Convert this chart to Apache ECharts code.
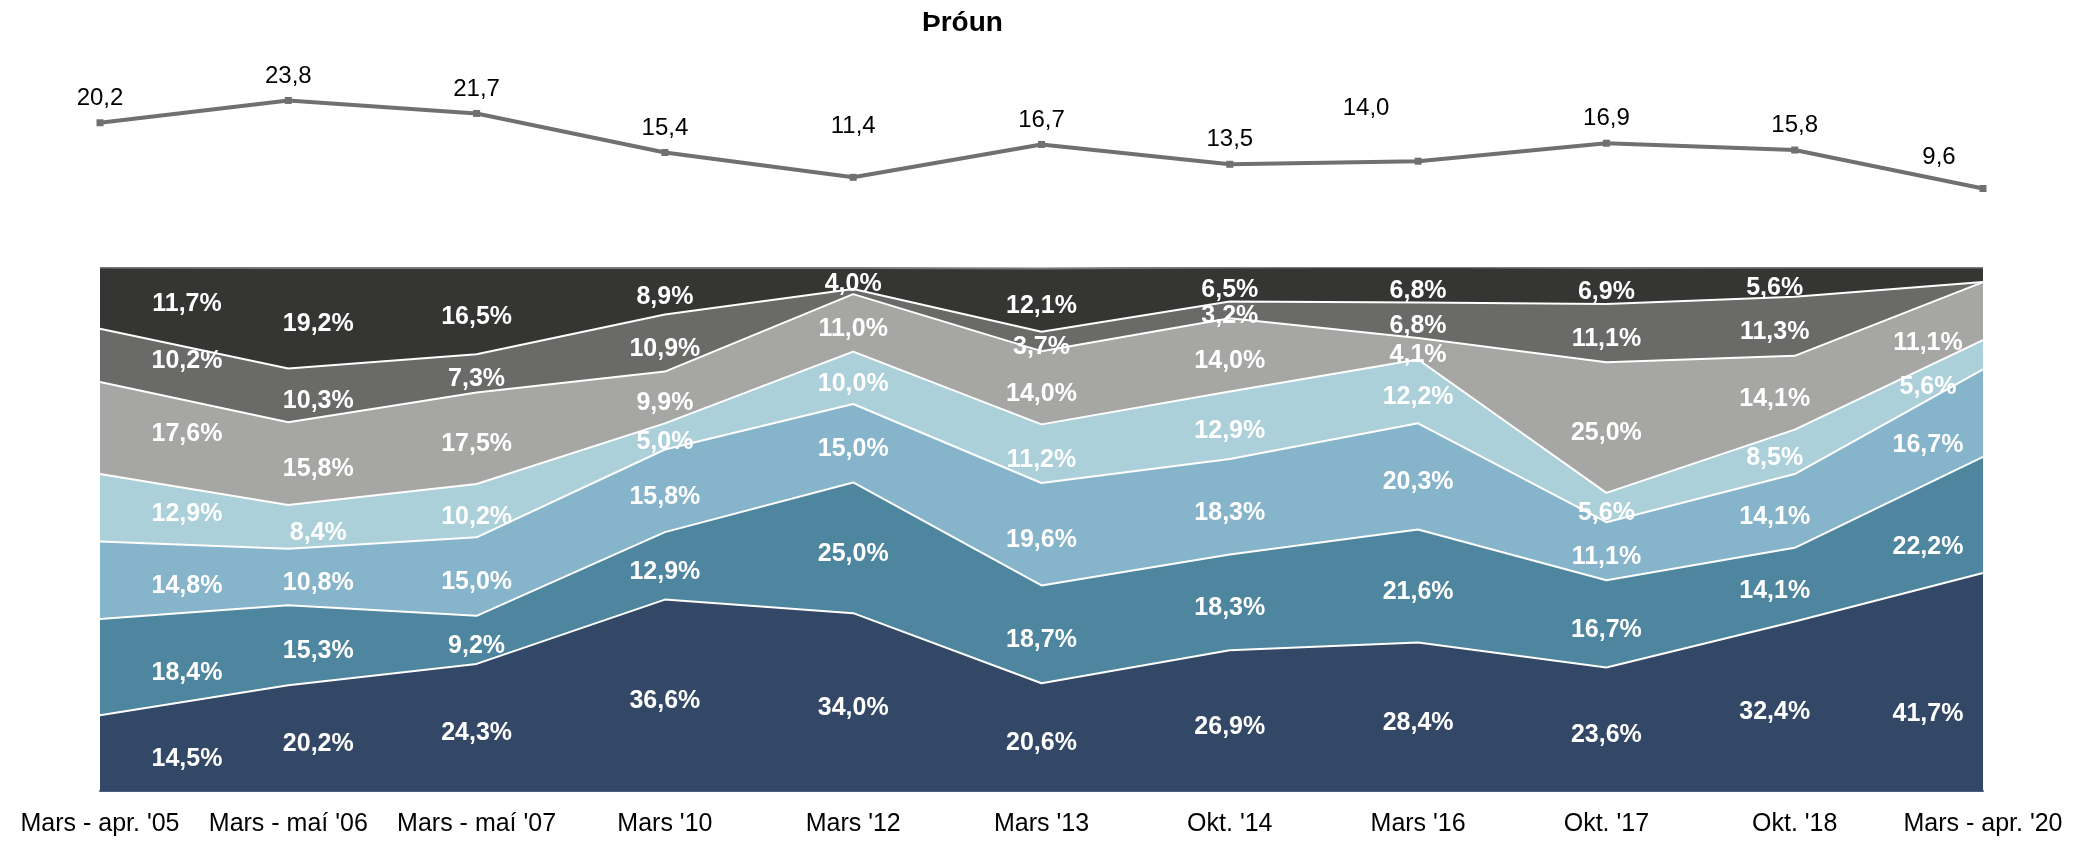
<!DOCTYPE html>
<html>
<head>
<meta charset="utf-8">
<title>Þróun</title>
<script src="https://cdn.jsdelivr.net/npm/echarts@6/dist/echarts.min.js"></script>
<style>
  html, body { margin: 0; padding: 0; background: #fff; }
  #chart { width: 2092px; height: 841px; }
</style>
</head>
<body>
<div id="chart"></div>
<script>
// gögn lesin af myndinni
const categories = ["Mars - apr. '05", "Mars - maí '06", "Mars - maí '07", "Mars '10", "Mars '12",
  "Mars '13", "Okt. '14", "Mars '16", "Okt. '17", "Okt. '18", "Mars - apr. '20"];

const trend = [20.2, 23.8, 21.7, 15.4, 11.4, 16.7, 13.5, 14.0, 16.9, 15.8, 9.6];

// hlutföll, neðst upp
const share1 = [14.5, 20.2, 24.3, 36.6, 34.0, 20.6, 26.9, 28.4, 23.6, 32.4, 41.7];
const share2 = [18.4, 15.3, 9.2, 12.9, 25.0, 18.7, 18.3, 21.6, 16.7, 14.1, 22.2];
const share3 = [14.8, 10.8, 15.0, 15.8, 15.0, 19.6, 18.3, 20.3, 11.1, 14.1, 16.7];
const share4 = [12.9, 8.4, 10.2, 5.0, 10.0, 11.2, 12.9, 12.2, 5.6, 8.5, 5.6];
const share5 = [17.6, 15.8, 17.5, 9.9, 11.0, 14.0, 14.0, 4.1, 25.0, 14.1, 11.1];
const share6 = [10.2, 10.3, 7.3, 10.9, 1.0, 3.7, 3.2, 6.8, 11.1, 11.3, 0.0];
const share7 = [11.7, 19.2, 16.5, 8.9, 4.0, 12.1, 6.5, 6.8, 6.9, 5.6, 2.8];

const shares = [share1, share2, share3, share4, share5, share6, share7];
const colors = ['#334766', '#4e86a0', '#85b4cb', '#acd0d9', '#a6a6a4', '#6a6a68', '#353533'];

const FONT = "'Liberation Sans', Arial, sans-serif";
const fmt = (v) => v.toFixed(1).replace('.', ',');

// tilfærsla merkja í fyrsta/síðasta dálki (eins og í Excel)
const colShift = [[87, 6], [30, 6], [0, 6], [0, 6], [0, 6], [0, 6], [0, 6], [0, 6], [0, 6], [-20, 6], [-55, 32]];
const trendLabelShift = { 4: [0, -26], 7: [-52, -28], 10: [-44, -7] };

const areaSeries = shares.map((vals, i) => ({
  name: 's' + (i + 1),
  type: 'line',
  xAxisIndex: 1,
  yAxisIndex: 1,
  stack: 'total',
  symbol: 'none',
  z: 10 - i,
  data: vals,
  areaStyle: { color: colors[i], opacity: 1 },
  lineStyle: { color: i === 6 ? '#7a7a7a' : '#ffffff', width: 2 },
  itemStyle: { color: colors[i] },
  emphasis: { disabled: true },
}));

// merki í miðju hvers bils
const labelData = [];
shares.forEach((vals, i) => {
  vals.forEach((v, j) => {
    if (v < 3) return;
    let below = 0;
    for (let k = 0; k < i; k++) below += shares[k][j];
    labelData.push({
      value: [j, below + v / 2],
      raw: v,
      label: { offset: colShift[j] },
    });
  });
});

const chart = echarts.init(document.getElementById('chart'), null, { renderer: 'canvas' });
chart.setOption({
  animation: false,
  backgroundColor: '#ffffff',
  textStyle: { fontFamily: FONT },
  title: {
    text: 'Þróun',
    left: 917,
    top: 4,
    textStyle: { fontFamily: FONT, fontSize: 28, fontWeight: 'bold', color: '#000' },
  },
  grid: [
    { left: 100, right: 109, top: 62, height: 186 },
    { left: 100, right: 109, top: 268, bottom: 50 },
  ],
  xAxis: [
    {
      gridIndex: 0, type: 'category', data: categories, boundaryGap: false,
      show: false,
    },
    {
      gridIndex: 1, type: 'category', data: categories, boundaryGap: false,
      axisLine: { lineStyle: { color: '#4a5b85', width: 2 } },
      axisTick: { show: false },
      splitLine: { show: false },
      axisLabel: { fontFamily: FONT, fontSize: 25, color: '#000', margin: 21, interval: 0 },
    },
  ],
  yAxis: [
    { gridIndex: 0, type: 'value', min: 0, max: 30, show: false },
    { gridIndex: 1, type: 'value', min: 0, max: 100, show: false },
  ],
  series: [
    {
      name: 'Þróun',
      type: 'line',
      xAxisIndex: 0,
      yAxisIndex: 0,
      data: trend.map((v, j) => ({
        value: v,
        label: { offset: trendLabelShift[j] || [0, 0] },
      })),
      symbol: 'rect',
      symbolSize: 7,
      lineStyle: { color: '#707070', width: 4 },
      itemStyle: { color: '#707070' },
      label: {
        show: true, position: 'top', distance: 9,
        fontFamily: FONT, fontSize: 24, color: '#000',
        formatter: (p) => fmt(p.value),
      },
      emphasis: { disabled: true },
    },
    ...areaSeries,
    {
      name: 'merki',
      type: 'scatter',
      xAxisIndex: 1,
      yAxisIndex: 1,
      symbolSize: 0,
      z: 20,
      data: labelData,
      itemStyle: { opacity: 1 },
      label: {
        show: true, position: 'inside', opacity: 1,
        fontFamily: FONT, fontSize: 25, fontWeight: 'bold', color: '#ffffff',
        formatter: (p) => fmt(p.data.raw) + '%',
      },
      emphasis: { disabled: true },
    },
  ],
});
window.addEventListener('resize', () => chart.resize());
</script>
</body>
</html>
